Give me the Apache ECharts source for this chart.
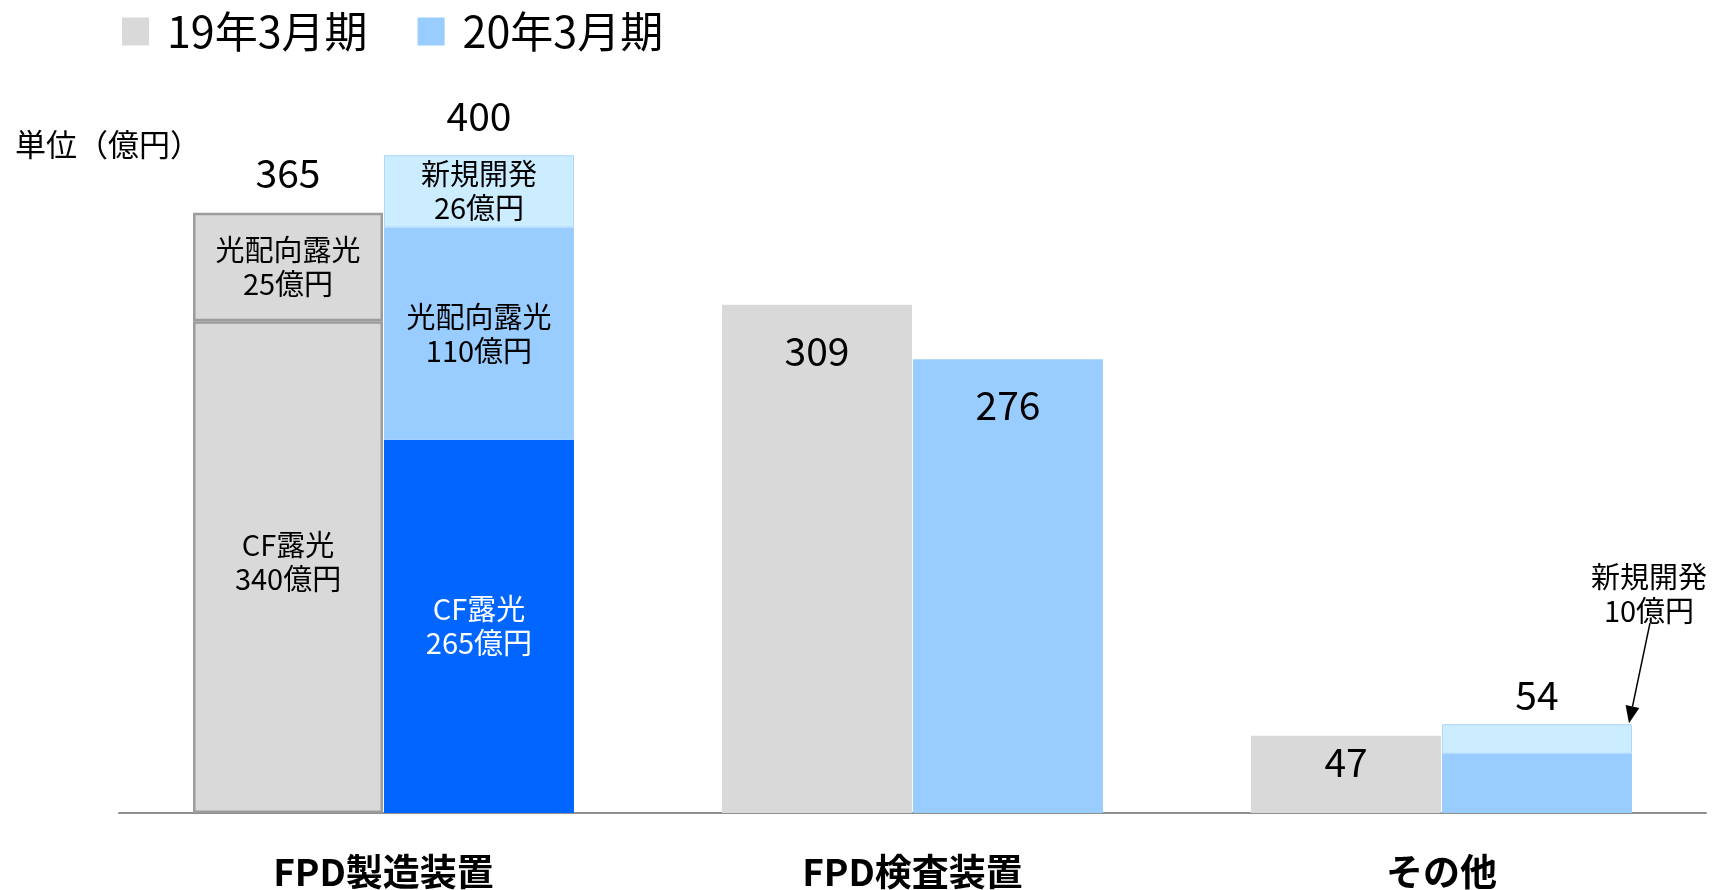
<!DOCTYPE html>
<html><head><meta charset="utf-8">
<script src="https://cdn.jsdelivr.net/npm/echarts@6/dist/echarts.min.js"></script>
<style>html,body{margin:0;padding:0;background:#fff}#main{width:1715px;height:890px}</style>
</head><body><div id="main"></div>
<script>
// ---- data (heights) ----
const categories = ['FPD製造装置', 'FPD検査装置', 'その他'];
const periods = ['19年3月期', '20年3月期'];
const prevLower = [299, 309, 47];
const prevUpper = [66, null, null];
const prevTotals = [365, 309, 47];
const curLower = [227, 276, 36];
const curMiddle = [129, null, null];
const curTop = [44, null, 18];
const curTotals = [400, 276, 54];
const prevLowerText = ['CF露光\n340億円', '', ''];
const prevUpperText = ['光配向露光\n25億円', '', ''];
const curLowerText = ['CF露光\n265億円', '', ''];
const curMiddleText = ['光配向露光\n110億円', '', ''];
const curTopText = ['新規開発\n26億円', '', ''];
const noteText = '新規開発\n10億円';
const unitText = '単位（億円）';

(function () {
// ---- styles ----
const FONT = '"Noto Sans CJK JP", "Noto Sans", sans-serif';
const GRAY = '#d9d9d9', LIGHT = '#99ccff', BRIGHT = '#0066ff', PALE = '#ccecff', BORDER = '#9c9c9c';
const segLabel = (text, color) => ({show: true, position: 'inside', formatter: text, color: color || '#000', fontSize: 29, lineHeight: 34, fontFamily: FONT});
const numLabel = (text, pos, dist) => ({show: true, position: pos, distance: dist, formatter: text, color: '#000', fontSize: 39, fontFamily: FONT});

const common = {type: 'bar', barWidth: 190, barGap: '0.5%'};

const s1 = Object.assign({}, common, {
  name: periods[0], stack: 'p', itemStyle: {color: GRAY},
  data: prevLower.map((v, i) => {
    if (i === 0) return {value: v, itemStyle: {borderColor: BORDER, borderWidth: 2.5}, label: Object.assign(segLabel(prevLowerText[i]), {offset: [0, -5]})};
    return {value: v, label: numLabel(String(prevTotals[i]), 'insideTop', i === 1 ? 27 : 7)};
  })
});
const s2 = Object.assign({}, common, {
  name: periods[0], stack: 'p', itemStyle: {color: GRAY},
  data: prevUpper.map((v, i) => v == null ? '-' : {value: v, itemStyle: {borderColor: BORDER, borderWidth: 2.5}, label: segLabel(prevUpperText[i])})
});
const s3 = Object.assign({}, common, {
  name: 'sum19', stack: 'p', itemStyle: {color: 'rgba(0,0,0,0)'},
  data: prevTotals.map((v, i) => i === 0 ? {value: 0, label: numLabel(String(v), 'top', 20)} : '-')
});
const s4 = Object.assign({}, common, {
  name: periods[1], stack: 'c', itemStyle: {color: LIGHT},
  data: curLower.map((v, i) => {
    if (i === 0) return {value: v, itemStyle: {color: BRIGHT}, label: segLabel(curLowerText[i], '#fff')};
    if (i === 1) return {value: v, label: numLabel(String(curTotals[i]), 'insideTop', 27)};
    return {value: v};
  })
});
const s5 = Object.assign({}, common, {
  name: periods[1], stack: 'c', itemStyle: {color: LIGHT},
  data: curMiddle.map((v, i) => v == null ? '-' : {value: v, label: segLabel(curMiddleText[i])})
});
const s6 = Object.assign({}, common, {
  name: periods[1], stack: 'c', itemStyle: {color: PALE},
  data: curTop.map((v, i) => {
    if (v == null) return '-';
    const it = {value: v, itemStyle: {color: PALE, borderColor: '#aad6ff', borderWidth: 1}};
    if (curTopText[i]) it.label = segLabel(curTopText[i]);
    return it;
  })
});
const s7 = Object.assign({}, common, {
  name: 'sum20', stack: 'c', itemStyle: {color: 'rgba(0,0,0,0)'},
  data: curTotals.map((v, i) => i === 0 ? {value: 0, label: numLabel(String(v), 'top', 20)} : (i === 2 ? {value: 0, label: numLabel(String(v), 'top', 10)} : '-'))
});

const option = {
  animation: false,
  backgroundColor: '#fff',
  legend: {
    data: [{name: periods[0], itemStyle: {color: GRAY}}, {name: periods[1], itemStyle: {color: LIGHT}}],
    left: 122, top: 10, padding: 0, icon: 'rect', itemWidth: 27, itemHeight: 28, itemGap: 50,
    selectedMode: false,
    textStyle: {fontSize: 43, color: '#000', fontFamily: FONT, padding: [0, 0, 0, 13], width: 202}
  },
  grid: {left: 119, right: 9, top: 73, bottom: 77, containLabel: false},
  xAxis: {
    type: 'category', data: categories,
    axisLine: {show: true, lineStyle: {color: '#8f8f8f', width: 2}},
    axisTick: {show: false},
    axisLabel: {fontSize: 37, fontWeight: 'bold', color: '#000', fontFamily: FONT, margin: 40}
  },
  yAxis: {type: 'value', min: 0, max: 450, show: false, splitLine: {show: false}},
  series: [s1, s2, s3, s4, s5, s6, s7]
};

const chart = echarts.init(document.getElementById('main'));
chart.setOption(option);

// annotation arrow pointing at the top-right corner of the その他 新規開発 segment
const lay = chart.getModel().getSeriesByIndex(5).getData().getItemLayout(2);
const barRight = Math.max(lay.x, lay.x + lay.width);
const barTop = Math.min(lay.y, lay.y + lay.height);
const x0 = barRight + 18, y0 = barTop - 101, x1 = barRight - 3, y1 = barTop - 1;
const dx = x1 - x0, dy = y1 - y0, len = Math.sqrt(dx * dx + dy * dy);
const ux = dx / len, uy = dy / len, hl = 17, hw = 7;
const bx = x1 - ux * hl, by = y1 - uy * hl;
chart.setOption({
  graphic: [
    {type: 'text', left: 15, top: 129, style: {text: unitText, fill: '#000', font: '31px ' + FONT}},
    {type: 'text', x: barRight + 17, y: barTop - 130, style: {text: noteText, fill: '#000', font: '29px ' + FONT, lineHeight: 34, align: 'center', verticalAlign: 'middle', textAlign: 'center', textVerticalAlign: 'middle'}},
    {type: 'line', shape: {x1: x0, y1: y0, x2: bx, y2: by}, style: {stroke: '#000', lineWidth: 1.5}},
    {type: 'polygon', shape: {points: [[x1, y1], [bx - uy * hw, by + ux * hw], [bx + uy * hw, by - ux * hw]]}, style: {fill: '#000'}}
  ]
});
})();
</script>
</body></html>
